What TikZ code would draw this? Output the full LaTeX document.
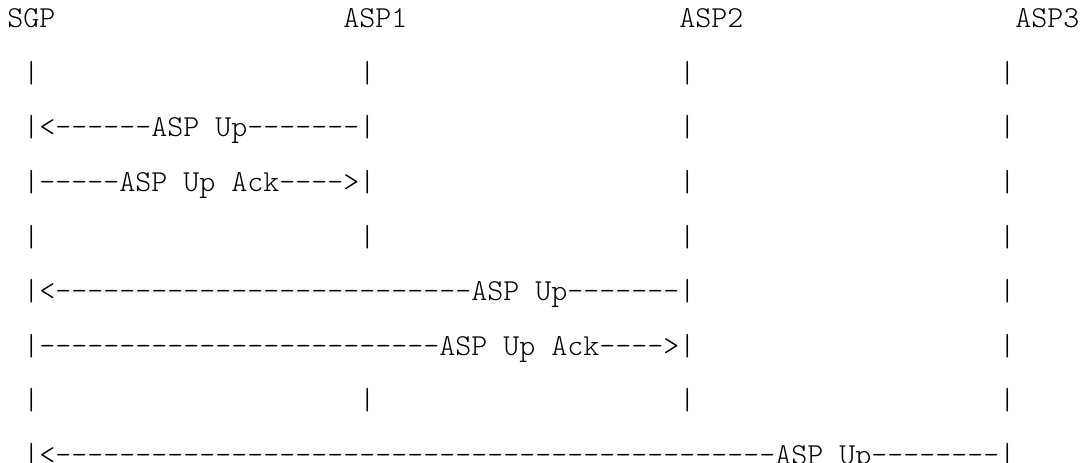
\documentclass[tikz,border=0pt]{standalone}
\usepackage{fontspec}
\newfontfamily\lightmono{lmmonolt10-regular.otf}
\begin{document}
\begin{tikzpicture}[
  x=12pt, y=-40.875pt,
  cell/.style={font=\lightmono\fontsize{22.857}{28}\selectfont, inner sep=0pt, anchor=base west}
]
\useasboundingbox (-5.25pt,21pt) rectangle (804.75pt,-326.25pt);

% lifeline heads
\node[cell] (sgp) at (0,0) {SGP};
\node[cell] (asp1) at (21,0) {ASP1};
\node[cell] (asp2) at (42,0) {ASP2};
\node[cell] (asp3) at (63,0) {ASP3};

% rows with bars only
\foreach \r in {1,4,7}
  \foreach \c/\n in {1/sgp,22/asp1,42/asp2,62/asp3}
    \node[cell] (bar-\n-\r) at (\c,\r) {|};

% ASP1 comes up
\node[cell] (up1) at (1,2) {|<------ASP Up-------|};
\node[cell] (ack1) at (1,3) {|-----ASP Up Ack---->|};
\foreach \r in {2,3}
  \foreach \c/\n in {42/asp2,62/asp3}
    \node[cell] (bar-\n-\r) at (\c,\r) {|};

% ASP2 comes up
\node[cell] (up2) at (1,5) {|<--------------------------ASP Up-------|};
\node[cell] (ack2) at (1,6) {|-------------------------ASP Up Ack---->|};
\foreach \r in {5,6}
  \node[cell] (bar-asp3-\r) at (62,\r) {|};

% ASP3 comes up
\node[cell] (up3) at (1,8) {|<---------------------------------------------ASP Up--------|};
\end{tikzpicture}
\end{document}
